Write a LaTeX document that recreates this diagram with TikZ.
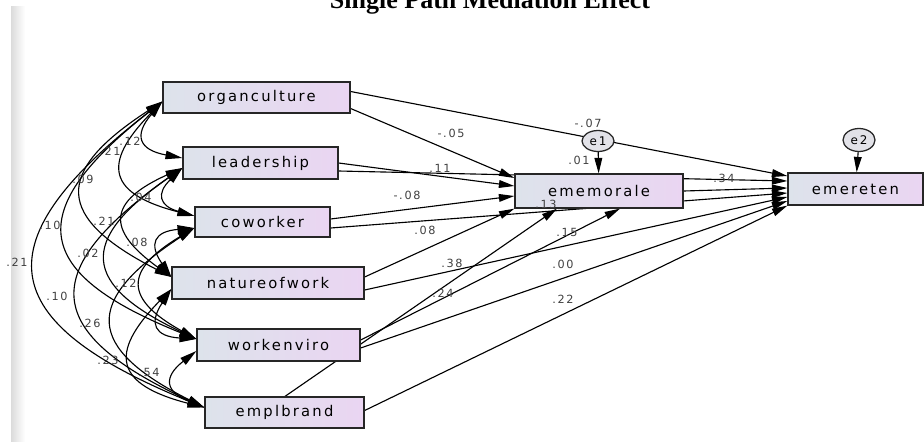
\documentclass[tikz,border=0pt]{standalone}
\usepackage{fontspec}
\setmainfont{DejaVu Sans}[LetterSpace=15]
\newfontfamily\titelfont{Liberation Serif}
\usetikzlibrary{arrows.meta,shapes.geometric}
\pgfdeclarelayer{hinten}
\pgfsetlayers{hinten,main}
\definecolor{boxlinks}{RGB}{221,227,235}
\definecolor{boxrechts}{RGB}{234,213,242}
\definecolor{fehler}{RGB}{226,226,232}
\newcommand{\pxl}{0.025cm}
\begin{document}
\begin{tikzpicture}[x=0.025cm, y=-0.025cm,
    >={Triangle[length=11pt,width=5.5pt]},
    var/.style={draw=black!85, line width=0.9pt, left color=boxlinks, right color=boxrechts,
        inner sep=0pt, minimum height=31*\pxl, font=\fontsize{10.5}{12}\selectfont},
    err/.style={ellipse, draw=black!85, line width=0.9pt, fill=fehler, inner sep=0pt,
        minimum width=32*\pxl, minimum height=21*\pxl, font=\fontsize{8.5}{9}\selectfont},
    pfad/.style={->, line width=0.8pt},
    kov/.style={{Triangle[length=12pt,width=6pt]}-{Triangle[length=12pt,width=6pt]},
        line width=0.8pt, bend right=60, looseness=1.9},
    wert/.style={font=\fontsize{8}{9}\selectfont, text=black!75, inner sep=0pt}]
    \useasboundingbox (0,0) rectangle (924,441);
    \clip (0,0) rectangle (924,441);
    % Rand und Titel
    \shade[left color=black!14, right color=white] (11,6) rectangle (25,441);
    \node[font=\titelfont\bfseries\fontsize{18.5}{20}\selectfont, anchor=base] (titel) at (490,8) {Single Path Mediation Effect};
    % Variablen
    \node[var, minimum width=187*\pxl] (org) at (256.5,97.5) {organculture};
    \node[var, minimum width=155*\pxl, minimum height=32*\pxl] (lead) at (260.5,163) {leadership};
    \node[var, minimum width=135*\pxl, minimum height=30*\pxl] (cow) at (262.5,222) {coworker};
    \node[var, minimum width=192*\pxl, minimum height=32*\pxl] (nat) at (268,283) {natureofwork};
    \node[var, minimum width=163*\pxl, minimum height=32*\pxl] (work) at (278.5,345) {workenviro};
    \node[var, minimum width=159*\pxl] (empl) at (284.5,412.5) {emplbrand};
    \node[var, minimum width=168*\pxl, minimum height=34*\pxl] (mor) at (599,191) {ememorale};
    \node[var, minimum width=135*\pxl, minimum height=32*\pxl] (ret) at (855.5,189) {emereten};
    \node[err] (e1) at (598,141) {e1};
    \node[err, minimum height=23*\pxl] (e2) at (859,140) {e2};
    \begin{pgfonlayer}{hinten}
        % Pfade
        \draw[pfad] ([shift={(0,11)}]org.east) -- ([shift={(0,-13)}]mor.west);
        \draw[pfad] ([shift={(0,-6)}]org.east) -- ([shift={(0,-13)}]ret.west);
        \draw[pfad] (lead.east) -- ([shift={(0,-5)}]mor.west);
        \draw[pfad] ([shift={(0,8)}]lead.east) -- ([shift={(0,-8)}]ret.west);
        \draw[pfad] ([shift={(0,-3)}]cow.east) -- ([shift={(0,5)}]mor.west);
        \draw[pfad] ([shift={(0,6)}]cow.east) -- ([shift={(0,4)}]ret.west);
        \draw[pfad] ([shift={(0,-6)}]nat.east) -- (mor.south west);
        \draw[pfad] ([shift={(0,7)}]nat.east) -- ([shift={(0,8)}]ret.west);
        \draw[pfad] ([shift={(0,-5)}]work.east) -- ([shift={(21,0)}]mor.south);
        \draw[pfad] ([shift={(0,3)}]work.east) -- ([shift={(0,12)}]ret.west);
        \draw[pfad] ([shift={(0.5,0)}]empl.north) -- ([shift={(-42,0)}]mor.south);
        \draw[pfad] ([shift={(0,-2)}]empl.east) -- (ret.south west);
        \draw[pfad] (mor.east) -- ([shift={(0,-1)}]ret.west);
        \draw[pfad] (e1) -- (mor);
        \draw[pfad] (e2) -- (ret);
        % Kovarianzen
        \draw[kov] ([shift={(0,4)}]org.west) to ([shift={(0,-5)}]lead.west);
        \draw[kov] ([shift={(0,4)}]org.west) to ([shift={(0,-6)}]cow.west);
        \draw[kov] ([shift={(0,4)}]org.west) to ([shift={(0,-6)}]nat.west);
        \draw[kov] ([shift={(0,4)}]org.west) to ([shift={(0,-6)}]work.west);
        \draw[kov] ([shift={(0,4)}]org.west) to ([shift={(0,-5)}]empl.west);
        \draw[kov] ([shift={(0,5)}]lead.west) to ([shift={(0,-6)}]cow.west);
        \draw[kov] ([shift={(0,5)}]lead.west) to ([shift={(0,-6)}]nat.west);
        \draw[kov] ([shift={(0,5)}]lead.west) to ([shift={(0,-6)}]work.west);
        \draw[kov] ([shift={(0,5)}]lead.west) to ([shift={(0,-5)}]empl.west);
        \draw[kov] ([shift={(0,6)}]cow.west) to ([shift={(0,-6)}]nat.west);
        \draw[kov] ([shift={(0,6)}]cow.west) to ([shift={(0,-6)}]work.west);
        \draw[kov] ([shift={(0,6)}]cow.west) to ([shift={(0,-5)}]empl.west);
        \draw[kov] ([shift={(0,6)}]nat.west) to ([shift={(0,-6)}]work.west);
        \draw[kov] ([shift={(0,6)}]nat.west) to ([shift={(0,-5)}]empl.west);
        \draw[kov] ([shift={(0,6)}]work.west) to ([shift={(0,-5)}]empl.west);
    \end{pgfonlayer}
    % Werte Pfade
    \node[wert] (w1) at (451,133) {-.05};
    \node[wert] (w2) at (588,123) {-.07};
    \node[wert] (w3) at (440,168) {.11};
    \node[wert] (w4) at (579,160) {.01};
    \node[wert] (w5) at (407,195) {-.08};
    \node[wert] (w6) at (546,204) {.13};
    \node[wert] (w7) at (425,230) {.08};
    \node[wert] (w8) at (452,263) {.38};
    \node[wert] (w9) at (567,232) {.15};
    \node[wert] (w10) at (563,264) {.00};
    \node[wert] (w11) at (443,293) {.24};
    \node[wert] (w12) at (563,299) {.22};
    \node[wert] (w13) at (724,178) {.34};
    % Werte Kovarianzen
    \node[wert] (k1) at (130,141) {.12};
    \node[wert] (k2) at (110,151) {.21};
    \node[wert] (k3) at (83,179) {.09};
    \node[wert] (k4) at (50,225) {.10};
    \node[wert] (k5) at (17,262) {.21};
    \node[wert] (k6) at (141,197) {.04};
    \node[wert] (k7) at (104,221) {.21};
    \node[wert] (k8) at (88,253) {.02};
    \node[wert] (k9) at (57,296) {.10};
    \node[wert] (k10) at (137,242) {.08};
    \node[wert] (k11) at (126,283) {.12};
    \node[wert] (k12) at (90,323) {.26};
    \node[wert] (k13) at (108,360) {.23};
    \node[wert] (k14) at (149,372) {.54};
\end{tikzpicture}
\end{document}
